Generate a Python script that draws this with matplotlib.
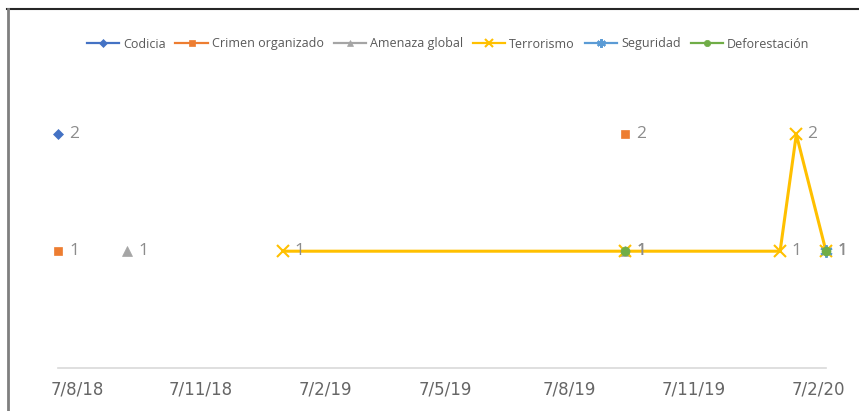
import numpy as np
import pandas as pd
import matplotlib
matplotlib.use("Agg")
import matplotlib.pyplot as plt
from matplotlib.lines import Line2D

nan = np.nan

# fechas de cada fila de la tabla (d/m/a en el eje)
dates = pd.to_datetime(["2018-07-24", "2018-09-13", "2019-01-07", "2019-09-17",
                        "2020-01-10", "2020-01-22", "2020-02-13"])
codicia = [2, nan, nan, nan, nan, nan, nan]
crimen = [1, nan, nan, 2, nan, nan, nan]
amenaza = [nan, 1, nan, 1, nan, nan, nan]
terrorismo = [nan, nan, 1, 1, 1, 2, 1]
seguridad = [nan, nan, nan, nan, nan, nan, 1]
deforestacion = [nan, nan, nan, 1, nan, nan, 1]

tick_dates = pd.to_datetime(["2018-08-07", "2018-11-07", "2019-02-07", "2019-05-07",
                             "2019-08-07", "2019-11-07", "2020-02-07"])
tick_labels = ["7/8/18", "7/11/18", "7/2/19", "7/5/19", "7/8/19", "7/11/19", "7/2/20"]

series = [
    ("Codicia", codicia, "#4472C4", "D", 5.5),
    ("Crimen organizado", crimen, "#ED7D31", "s", 6),
    ("Amenaza global", amenaza, "#A5A5A5", "^", 7),
    ("Terrorismo", terrorismo, "#FFC000", "x", 9),
    ("Seguridad", seguridad, "#5B9BD5", (6, 2, 0), 9),
    ("Deforestación", deforestacion, "#70AD47", "o", 6.5),
]

fig = plt.figure(figsize=(8.59, 4.11), dpi=100, facecolor="white")
ax = fig.add_axes([58 / 859, 1 - 368 / 411, (826 - 58) / 859, (368 - 76) / 411])

for name, vals, color, marker, ms in series:
    ax.plot(dates, vals, color=color, lw=2.2, marker=marker, ms=ms,
            mew=1.5 if marker in ("x", (6, 2, 0)) else 0.5,
            label=name, clip_on=False)

# etiquetas de datos
for name, vals, color, marker, ms in series:
    for d, v in zip(dates, vals):
        if not np.isnan(v):
            ax.annotate(f"{v:g}", (d, v), xytext=(8, 0), textcoords="offset points",
                        ha="left", va="center", fontsize=12.5, color="#8C8C8C",
                        family="Open Sans", zorder=10, annotation_clip=False)

ax.set_xlim(dates[0], dates[-1])
ax.set_ylim(0, 2.5)
ax.set_xticks(tick_dates)
ax.set_xticklabels(tick_labels, family="DejaVu Sans", fontsize=12, color="#666666")
ax.tick_params(axis="x", length=0, pad=9)
ax.set_yticks([])
for s in ["left", "right", "top"]:
    ax.spines[s].set_visible(False)
ax.spines["bottom"].set_color("#D9D9D9")
ax.spines["bottom"].set_linewidth(1.2)

leg = fig.legend(loc="center", bbox_to_anchor=(448 / 859, 1 - 44 / 411), ncol=6,
                 frameon=False, handlelength=2.6, handletextpad=0.3, columnspacing=0.8,
                 prop={"family": "Open Sans", "size": 9}, markerscale=0.7)
for t in leg.get_texts():
    t.set_color("#595959")
for h in leg.legend_handles:
    h.set_linewidth(1.6)

# borde del gráfico
fig.add_artist(Line2D([7 / 859, 1], [1 - 9 / 411, 1 - 9 / 411], color="#262626", lw=1.5))
fig.add_artist(Line2D([7.5 / 859, 7.5 / 859], [0, 1 - 9 / 411], color="#7F7F7F", lw=2))

fig.savefig("out.png", dpi=100, facecolor="white")
